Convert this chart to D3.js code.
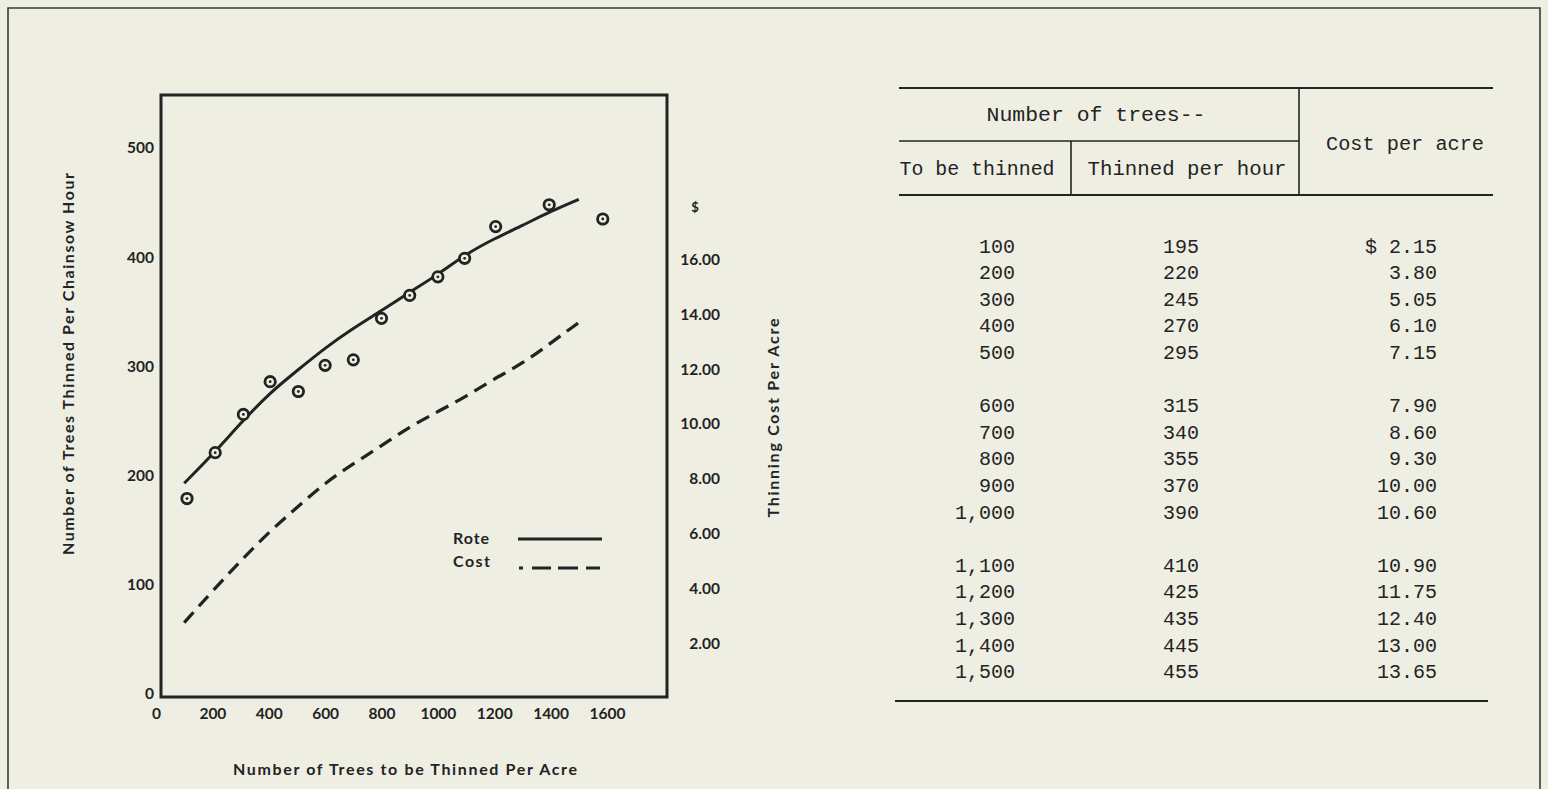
<!DOCTYPE html>
<html><head><meta charset="utf-8">
<script src="https://cdn.jsdelivr.net/npm/d3@7"></script>
<style>
html,body{margin:0;padding:0;background:#efeee3;}
svg{display:block;}
</style></head><body>
<svg id="c" width="1548" height="789"></svg>
<script>
// ---------------- data ----------------
const rateTicks = [0, 100, 200, 300, 400, 500];
const treeTicks = [0, 200, 400, 600, 800, 1000, 1200, 1400, 1600];
const costTicks = [2, 4, 6, 8, 10, 12, 14, 16];

// observed points (circles)
const obsTrees = [110, 210, 310, 405, 505, 600, 700, 800, 900, 1000, 1095, 1205, 1395, 1585];
const obsRate  = [179, 221, 256, 286, 277, 301, 306, 344, 365, 382, 399, 428, 448, 435];

// fitted curves
const curveTrees = [100, 200, 300, 400, 500, 600, 700, 800, 900, 1000, 1100, 1200, 1300, 1400, 1500];
const rateCurve  = [193, 219, 248, 275, 296, 317, 335, 351, 368, 384, 403, 417, 429, 442, 453];
const costCurve  = [2.75, 3.9, 5.0, 6.05, 6.95, 7.85, 8.55, 9.2, 9.9, 10.45, 11.0, 11.65, 12.2, 12.95, 13.7];

// table
const tblToBeThinned = ["100","200","300","400","500","600","700","800","900","1,000","1,100","1,200","1,300","1,400","1,500"];
const tblPerHour     = ["195","220","245","270","295","315","340","355","370","390","410","425","435","445","455"];
const tblCost        = ["$ 2.15","3.80","5.05","6.10","7.15","7.90","8.60","9.30","10.00","10.60","10.90","11.75","12.40","13.00","13.65"];

// ---------------- drawing ----------------
const BG = "#efeee3", INK = "#232323";
const svg = d3.select("#c");
svg.append("rect").attr("width",1548).attr("height",789).attr("fill",BG);

// outer frame
svg.append("path").attr("d","M8,789 L8,8 L1540,8 L1540,789")
  .attr("fill","none").attr("stroke","#3a3a3a").attr("stroke-width",1.6);

const x  = d3.scaleLinear().domain([0,1600]).range([156,607]);
const y  = d3.scaleLinear().domain([0,500]).range([694,148]);
const y2 = d3.scaleLinear().domain([0,16]).range([698,259.5]);

const FONT = "Lato, 'Noto Sans', sans-serif";
const TICK_FS = 15.5;

// plot box
svg.append("rect").attr("x",161).attr("y",95).attr("width",506).attr("height",602)
  .attr("fill","none").attr("stroke",INK).attr("stroke-width",3);

// left axis
const gy = svg.append("g").attr("transform","translate(161,0)")
  .call(d3.axisLeft(y).tickValues(rateTicks).tickSize(0).tickPadding(7));
gy.select(".domain").remove();
gy.selectAll("text").attr("font-family",FONT).attr("font-size",TICK_FS).attr("font-weight","bold").attr("fill",INK);

// bottom axis
const gx = svg.append("g").attr("transform","translate(0,697)")
  .call(d3.axisBottom(x).tickValues(treeTicks).tickFormat(d3.format("d")).tickSize(0).tickPadding(11));
gx.select(".domain").remove();
gx.selectAll("text").attr("font-family",FONT).attr("font-size",TICK_FS).attr("font-weight","bold").attr("fill",INK);

// right axis
const gr = svg.append("g").attr("transform","translate(667,0)")
  .call(d3.axisRight(y2).tickValues(costTicks).tickFormat(d3.format(".2f")).tickSize(0));
gr.select(".domain").remove();
gr.selectAll("text").attr("font-family",FONT).attr("font-size",TICK_FS).attr("font-weight","bold").attr("fill",INK)
  .attr("text-anchor","end").attr("x",53);
svg.append("text").attr("x",695).attr("y",y2(17.9)).attr("dy","0.32em")
  .attr("text-anchor","middle").attr("font-family",FONT).attr("font-size",13).attr("font-weight","bold")
  .attr("fill",INK).text("$");

// axis titles
const title = (tr, len, s) => svg.append("text").attr("transform",tr).attr("dominant-baseline","central")
  .attr("text-anchor","middle").attr("font-family",FONT).attr("font-size",16).attr("font-weight","bold")
  .attr("fill",INK).attr("textLength",len).attr("lengthAdjust","spacing").text(s);
title("translate(405,768)", 344, "Number of Trees to be Thinned Per Acre");
title("translate(67,364) rotate(-90)", 382, "Number of Trees Thinned Per Chainsow Hour");
title("translate(772,418) rotate(-90)", 199, "Thinning Cost Per Acre");

// curves
const rateLine = d3.line().x((d,i)=>x(curveTrees[i])).y(d=>y(d)).curve(d3.curveBasis);
svg.append("path").attr("d",rateLine(rateCurve)).attr("fill","none")
  .attr("stroke",INK).attr("stroke-width",3);

const costLine = d3.line().x((d,i)=>x(curveTrees[i])).y(d=>y2(d)).curve(d3.curveBasis);
svg.append("path").attr("d",costLine(costCurve)).attr("fill","none")
  .attr("stroke",INK).attr("stroke-width",3.3).attr("stroke-dasharray","14,8");

// observed points
const pts = svg.append("g").selectAll("g").data(obsRate).join("g")
  .attr("transform",(d,i)=>`translate(${x(obsTrees[i])},${y(d)})`);
pts.append("circle").attr("r",5.2).attr("fill",BG).attr("stroke",INK).attr("stroke-width",2.8);
pts.append("circle").attr("r",1.4).attr("fill",INK);

// legend
svg.append("text").attr("x",453).attr("y",537).attr("dominant-baseline","central")
  .attr("font-family",FONT).attr("font-size",16).attr("font-weight","bold").attr("fill",INK)
  .attr("textLength",36).attr("lengthAdjust","spacing").text("Rote");
svg.append("text").attr("x",453).attr("y",560).attr("dominant-baseline","central")
  .attr("font-family",FONT).attr("font-size",16).attr("font-weight","bold").attr("fill",INK)
  .attr("textLength",37).attr("lengthAdjust","spacing").text("Cost");
svg.append("line").attr("x1",518).attr("x2",602).attr("y1",539).attr("y2",539)
  .attr("stroke",INK).attr("stroke-width",3);
svg.append("line").attr("x1",519).attr("x2",601).attr("y1",568).attr("y2",568)
  .attr("stroke",INK).attr("stroke-width",3).attr("stroke-dasharray","4,9,19,7,20,8,14");

// ---------------- table ----------------
const TF = "'Liberation Mono', 'DejaVu Sans Mono', monospace";
const tbl = svg.append("g");
const hl = (x1,x2,yy,w)=>tbl.append("line").attr("x1",x1).attr("x2",x2).attr("y1",yy).attr("y2",yy)
  .attr("stroke",INK).attr("stroke-width",w);
const vl = (xx,y1,y2_,w)=>tbl.append("line").attr("x1",xx).attr("x2",xx).attr("y1",y1).attr("y2",y2_)
  .attr("stroke",INK).attr("stroke-width",w);
hl(899,1493,88,2); hl(899,1299,141,1.6); hl(899,1493,195,2); hl(895,1488,701,2);
vl(1299,88,195,1.6); vl(1071,141,195,1.6);

const ht = (tx,ty,s,len)=>tbl.append("text").attr("x",tx).attr("y",ty).attr("dominant-baseline","central")
  .attr("text-anchor","middle").attr("font-family",TF).attr("font-size",20).attr("fill",INK)
  .attr("textLength",len).attr("lengthAdjust","spacingAndGlyphs").text(s);
ht(1096,115,"Number of trees--",219);
ht(977,169,"To be thinned",155);
ht(1187,169,"Thinned per hour",199);
ht(1405,144,"Cost per acre",158);

const rowY = i => 247 + (i + Math.floor(i/5)) * 26.6;
const cols = [[tblToBeThinned,1015],[tblPerHour,1199],[tblCost,1437]];
cols.forEach(([arr,rx])=>{
  tbl.append("g").selectAll("text").data(arr).join("text")
    .attr("x",rx).attr("y",(d,i)=>rowY(i)).attr("dominant-baseline","central")
    .attr("text-anchor","end").attr("font-family",TF).attr("font-size",20).attr("fill",INK)
    .text(d=>d);
});
</script>
</body></html>
